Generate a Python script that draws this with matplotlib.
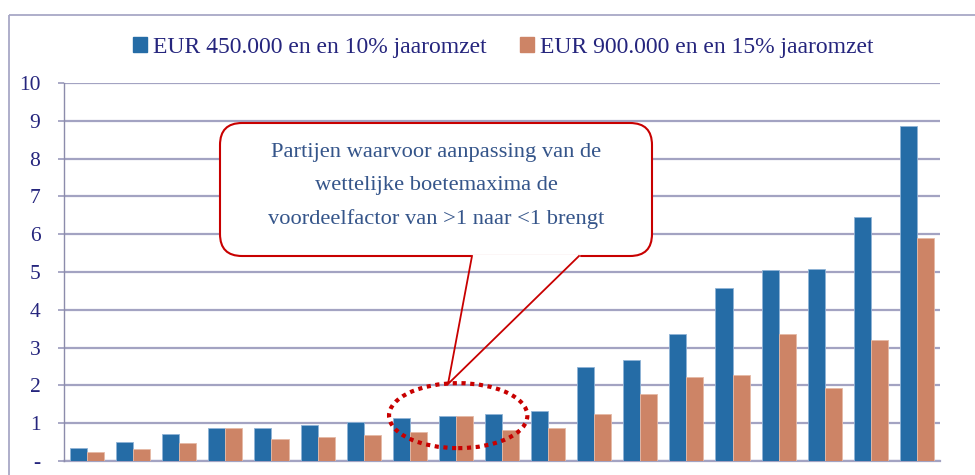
import matplotlib
matplotlib.use("Agg")
import matplotlib.pyplot as plt
import numpy as np
from matplotlib.patches import FancyBboxPatch, Ellipse, Rectangle, Patch
from matplotlib.lines import Line2D
from matplotlib.transforms import Affine2D

# ---------------------------
# DATA
# ---------------------------
labels = ["EUR 450.000 en en 10% jaaromzet", "EUR 900.000 en en 15% jaaromzet"]
laag = [0.35, 0.51, 0.72, 0.88, 0.88, 0.95, 1.02, 1.15, 1.18, 1.25,
        1.32, 2.50, 2.68, 3.35, 4.58, 5.04, 5.07, 6.46, 8.87]
hoog = [0.23, 0.32, 0.47, 0.88, 0.58, 0.63, 0.68, 0.77, 1.18, 0.82,
        0.87, 1.24, 1.78, 2.22, 2.27, 3.35, 1.94, 3.21, 5.91]
yticks = list(range(0, 11))
ytick_labels = ["-"] + [str(t) for t in yticks[1:]]
callout = "Partijen waarvoor aanpassing van de\nwettelijke boetemaxima de\nvoordeelfactor van >1 naar <1 brengt"

# ---------------------------
# STYLE
# ---------------------------
blue = "#256ca6"
orange = "#cd8466"
navy = "#25257d"
steel = "#35558a"
grid_c = "#a3a3c2"
red = "#c80000"
font = "Liberation Serif"
plt.rcParams["font.family"] = font

W, H = 975, 475
fig = plt.figure(figsize=(W / 100, H / 100), dpi=100)
ax = fig.add_axes([64 / W, 1 - 461 / H, 876 / W, 378 / H])

# pixel coords (from top-left) -> figure
pxt = Affine2D().scale(1 / W, -1 / H).translate(0, 1) + fig.transFigure

x = np.arange(len(laag))
w = 0.37
ax.bar(x - w / 2, laag, w, color=blue, edgecolor="#8fb3d6", linewidth=0.6, zorder=3)
ax.bar(x + w / 2, hoog, w, color=orange, edgecolor="#e6b9a6", linewidth=0.6, zorder=3)

ax.set_xlim(-0.5, len(laag) - 0.5)
ax.set_ylim(0, 10)
ax.set_yticks(yticks)
ax.set_yticklabels(ytick_labels, fontsize=15.5, color=navy)
ax.set_xticks([])
ax.yaxis.grid(True, color=grid_c, linewidth=1.6, zorder=0)
ax.axhline(0, color=grid_c, linewidth=1.6, clip_on=False, zorder=1)
ax.tick_params(axis="y", length=4, width=1.3, color=grid_c, pad=13)
for s in ["top", "right", "bottom"]:
    ax.spines[s].set_visible(False)
ax.spines["left"].set_color("#8c8cab")
ax.spines["left"].set_linewidth(1.0)
ax.set_facecolor("none")

# outer frame
fig.add_artist(Rectangle((9, 15), 1000, 500, transform=pxt, fill=False,
                         edgecolor="#a8a8c6", linewidth=1.3, zorder=0))

# legend
handles = [Patch(color=blue), Patch(color=orange)]
ax.legend(handles, labels, loc="center", bbox_to_anchor=(503 / W, 1 - 47 / H),
          bbox_transform=fig.transFigure, ncol=2, frameon=False,
          handlelength=0.6, handleheight=0.6, handletextpad=0.25,
          columnspacing=1.4, prop={"family": font, "size": 17},
          labelcolor=navy)

# callout
box = FancyBboxPatch((220, 123), 432, 133, boxstyle="round,pad=0,rounding_size=22",
                     transform=pxt, facecolor="white", edgecolor=red, linewidth=1.5, zorder=4)
fig.add_artist(box)
fig.add_artist(Line2D([473, 578], [256, 256], transform=pxt, color="white", linewidth=2.5, zorder=5))
fig.add_artist(Line2D([472, 448, 579], [256, 384, 256], transform=pxt, color=red,
                      linewidth=1.3, zorder=5))
fig.text(436 / W, 1 - 186 / H, callout, ha="center", va="center", fontsize=16.2,
         color=steel, linespacing=1.95, zorder=6)

# dotted ellipse around the parties that drop below 1
ax.add_patch(Ellipse((8.05, 1.2), 3.0, 1.72, fill=False, edgecolor=red,
                     linewidth=3, linestyle=(0, (1, 1.1)), zorder=6, clip_on=False))

fig.savefig("out.png", dpi=100)
